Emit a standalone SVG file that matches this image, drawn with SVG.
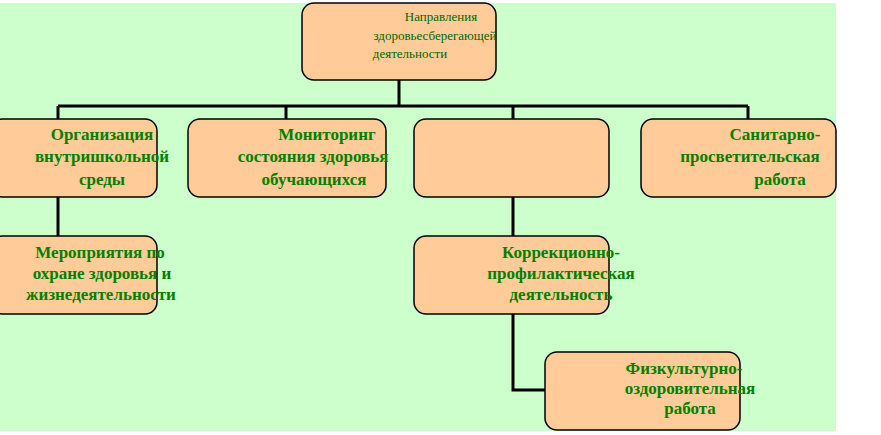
<svg xmlns="http://www.w3.org/2000/svg" width="881" height="435" viewBox="0 0 881 435">
<style>
.b{fill:#ffcc99;stroke:#000;stroke-width:1.5}
.t{font-family:"Liberation Serif",serif;font-weight:bold;font-size:17px;fill:#008000;text-anchor:middle}
.s{font-family:"Liberation Serif",serif;font-size:13px;fill:#006600;text-anchor:middle}
.c{stroke:#000;stroke-width:3;fill:none}
</style>
<rect x="0" y="3" width="836" height="428" fill="#ccffcc"/>
<g id="connectors">
<path class="c" d="M399 80V106M58 106H748M58 106V119M286 106V119M513 106V119M748 106V119M58 197V236M513 197V236M513 314V390H545"/>
</g>
<g id="n0"><rect class="b" x="302" y="3" width="194" height="77" rx="12"/>
<text class="s" x="441" y="21">Направления</text><text class="s" x="435" y="40">здоровьесберегающей</text><text class="s" x="410" y="58">деятельности</text></g>
<g id="n1"><rect class="b" x="-10" y="119" width="167" height="78" rx="12"/>
<text class="t" x="102" y="140">Организация</text><text class="t" x="102" y="162">внутришкольной</text><text class="t" x="102" y="185">среды</text></g>
<g id="n2"><rect class="b" x="188" y="119" width="198" height="78" rx="12"/>
<text class="t" x="327" y="140">Мониторинг</text><text class="t" x="313" y="162">состояния здоровья</text><text class="t" x="314" y="185">обучающихся</text></g>
<g id="n3"><rect class="b" x="414" y="119" width="195" height="78" rx="12"/></g>
<g id="n4"><rect class="b" x="641" y="119" width="195" height="78" rx="12"/>
<text class="t" x="775" y="140">Санитарно-</text><text class="t" x="750" y="162">просветительская</text><text class="t" x="780" y="185">работа</text></g>
<g id="n5"><rect class="b" x="-10" y="236" width="167" height="78" rx="12"/>
<text class="t" x="100" y="258">Мероприятия по</text><text class="t" x="102" y="279">охране здоровья и</text><text class="t" x="101" y="300">жизнедеятельности</text></g>
<g id="n6"><rect class="b" x="414" y="236" width="195" height="78" rx="12"/>
<text class="t" x="561" y="258">Коррекционно-</text><text class="t" x="561" y="279">профилактическая</text><text class="t" x="561" y="300">деятельность</text></g>
<g id="n7"><rect class="b" x="545" y="352" width="195" height="78" rx="12"/>
<text class="t" x="684" y="374">Физкультурно-</text><text class="t" x="690" y="394">оздоровительная</text><text class="t" x="690" y="414">работа</text></g>
</svg>
